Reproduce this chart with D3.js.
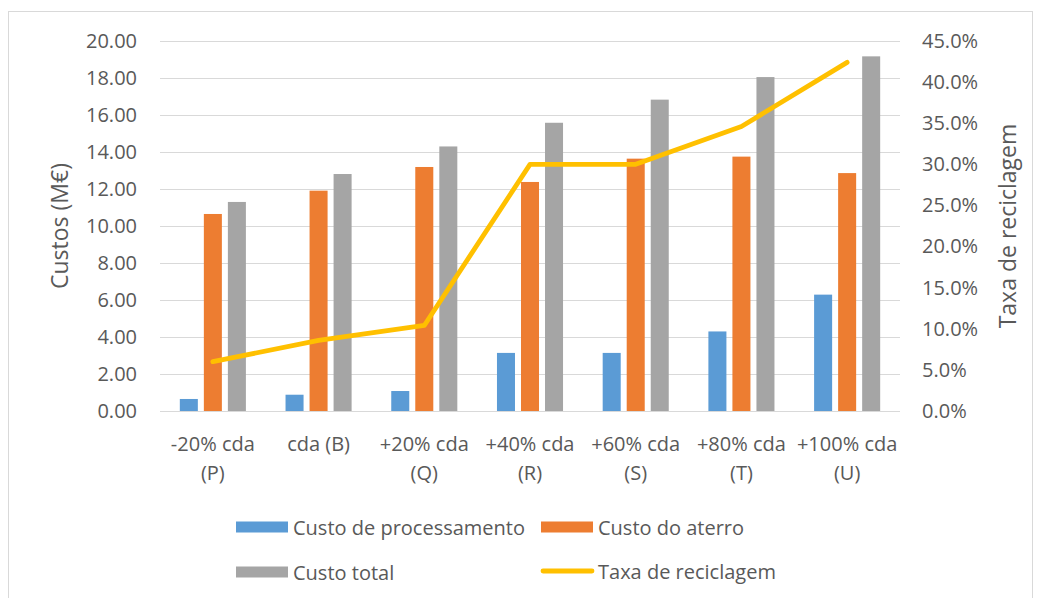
<!DOCTYPE html>
<html>
<head>
<meta charset="utf-8">
<script src="https://cdn.jsdelivr.net/npm/d3@7"></script>
<style>
  html, body { margin: 0; padding: 0; background: #ffffff; }
  svg text { font-family: "Open Sans", "Noto Sans", sans-serif; fill: #595959; }
</style>
</head>
<body>
<svg id="chart" width="1043" height="598"></svg>
<script>
// Cenários (rótulos em duas linhas)
const categories = [
  ["-20% cda", "(P)"],
  ["cda (B)"],
  ["+20% cda", "(Q)"],
  ["+40% cda", "(R)"],
  ["+60% cda", "(S)"],
  ["+80% cda", "(T)"],
  ["+100% cda", "(U)"]
];
// Custos em M€
const custoProcessamento = [0.65, 0.88, 1.08, 3.14, 3.14, 4.30, 6.29];
const custoAterro        = [10.65, 11.91, 13.19, 12.38, 13.64, 13.75, 12.86];
const custoTotal         = [11.30, 12.81, 14.30, 15.58, 16.83, 18.05, 19.17];
// Taxa de reciclagem (fração)
const taxaReciclagem     = [0.060, 0.086, 0.104, 0.300, 0.300, 0.346, 0.424];

const leftTicks  = [0, 2, 4, 6, 8, 10, 12, 14, 16, 18, 20];
const rightTicks = [0, 0.05, 0.10, 0.15, 0.20, 0.25, 0.30, 0.35, 0.40, 0.45];

const seriesNames  = ["Custo de processamento", "Custo do aterro", "Custo total"];
const seriesValues = [custoProcessamento, custoAterro, custoTotal];
const seriesColors = ["#5b9bd5", "#ed7d31", "#a5a5a5"];
const lineName  = "Taxa de reciclagem";
const lineColor = "#ffc000";

const svg = d3.select("#chart");
const plot = { left: 160, right: 900, top: 41, bottom: 411 };

// chart area border
svg.append("rect")
  .attr("x", 8.5).attr("y", 11.5)
  .attr("width", 1024).attr("height", 600)
  .attr("fill", "none").attr("stroke", "#d9d9d9").attr("stroke-width", 1);

const idx = d3.range(categories.length);
const x = d3.scaleBand().domain(idx).range([plot.left, plot.right]).paddingInner(0).paddingOuter(0);
const yL = d3.scaleLinear().domain([0, 20]).range([plot.bottom, plot.top]);
const yR = d3.scaleLinear().domain([0, 0.45]).range([plot.bottom, plot.top]);

const groupWidth = x.bandwidth() * 0.625;
const xs = d3.scaleBand().domain(d3.range(seriesNames.length))
  .range([(x.bandwidth() - groupWidth) / 2, (x.bandwidth() + groupWidth) / 2])
  .paddingInner(0.25).paddingOuter(0);

// horizontal gridlines
svg.append("g").selectAll("line").data(leftTicks).join("line")
  .attr("x1", plot.left).attr("x2", plot.right)
  .attr("y1", d => Math.round(yL(d)) + 0.5).attr("y2", d => Math.round(yL(d)) + 0.5)
  .attr("stroke", "#d9d9d9").attr("stroke-width", 1.2);

// left axis
const axL = d3.axisLeft(yL).tickValues(leftTicks).tickFormat(d3.format(".2f")).tickSize(0).tickPadding(0);
const gL = svg.append("g").attr("transform", `translate(137,0)`).call(axL);
gL.select(".domain").remove();
gL.selectAll("text").attr("font-size", 20).attr("fill", "#595959")
  .attr("font-family", "'Open Sans', sans-serif");

// right axis
const axR = d3.axisRight(yR).tickValues(rightTicks).tickFormat(d3.format(".1%")).tickSize(0).tickPadding(0);
const gR = svg.append("g").attr("transform", `translate(922,0)`).call(axR);
gR.select(".domain").remove();
gR.selectAll("text").attr("font-size", 20).attr("fill", "#595959")
  .attr("font-family", "'Open Sans', sans-serif");

// bars
seriesValues.forEach((vals, s) => {
  svg.append("g").selectAll("rect").data(vals).join("rect")
    .attr("x", (d, i) => x(i) + xs(s))
    .attr("width", xs.bandwidth())
    .attr("y", d => yL(d))
    .attr("height", d => yL(0) - yL(d))
    .attr("fill", seriesColors[s]);
});

// recycling-rate line
const line = d3.line()
  .x((d, i) => x(i) + x.bandwidth() / 2)
  .y(d => yR(d));
svg.append("path").datum(taxaReciclagem)
  .attr("d", line)
  .attr("fill", "none").attr("stroke", lineColor)
  .attr("stroke-width", 4.8)
  .attr("stroke-linecap", "round").attr("stroke-linejoin", "round");

// category labels
const xl = svg.append("g").selectAll("text").data(categories).join("text")
  .attr("text-anchor", "middle").attr("font-size", 20)
  .attr("x", (d, i) => x(i) + x.bandwidth() / 2)
  .attr("y", 451);
xl.selectAll("tspan").data(d => d).join("tspan")
  .attr("x", function () { return d3.select(this.parentNode).attr("x"); })
  .attr("dy", (d, j) => j === 0 ? 0 : 29)
  .text(d => d);

// axis titles
svg.append("text")
  .attr("transform", `translate(68,${(plot.top + plot.bottom) / 2}) rotate(-90)`)
  .attr("text-anchor", "middle").attr("font-size", 23)
  .text("Custos (M€)");
svg.append("text")
  .attr("transform", `translate(1016,${(plot.top + plot.bottom) / 2}) rotate(-90)`)
  .attr("text-anchor", "middle").attr("font-size", 23)
  .text("Taxa de reciclagem");

// legend
const legendItems = [
  { name: seriesNames[0], color: seriesColors[0], type: "rect", x: 236, y: 527 },
  { name: seriesNames[1], color: seriesColors[1], type: "rect", x: 541, y: 527 },
  { name: seriesNames[2], color: seriesColors[2], type: "rect", x: 236, y: 572 },
  { name: lineName,       color: lineColor,       type: "line", x: 541, y: 571 }
];
const lg = svg.append("g").selectAll("g").data(legendItems).join("g")
  .attr("transform", d => `translate(${d.x},${d.y})`);
lg.filter(d => d.type === "rect").append("rect")
  .attr("x", 0).attr("y", -5.5).attr("width", 52).attr("height", 11)
  .attr("fill", d => d.color);
lg.filter(d => d.type === "line").append("line")
  .attr("x1", 2).attr("x2", 51).attr("y1", 0).attr("y2", 0)
  .attr("stroke", d => d.color).attr("stroke-width", 4.8).attr("stroke-linecap", "round");
lg.append("text")
  .attr("x", 57).attr("y", 7.5).attr("font-size", 20)
  .text(d => d.name);
</script>
</body>
</html>
